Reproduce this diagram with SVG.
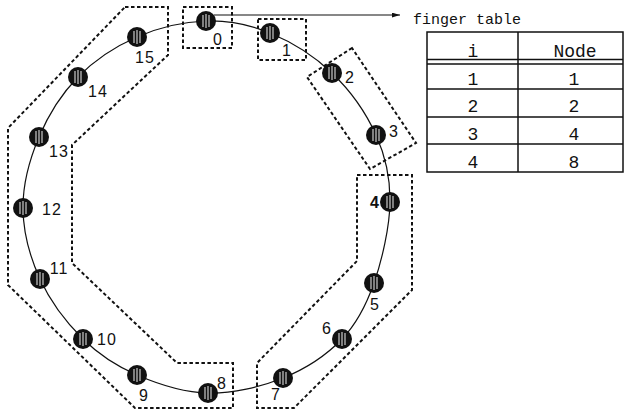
<svg xmlns="http://www.w3.org/2000/svg" xmlns:xlink="http://www.w3.org/1999/xlink" width="625" height="417" viewBox="0 0 625 417">
<style>
.ring{fill:none;stroke:#111;stroke-width:1.2}
.dash{fill:none;stroke:#111;stroke-width:2;stroke-dasharray:3.5 2.5}
.lbl{font-family:"Liberation Sans",Arial,sans-serif;font-size:16px;fill:#111;text-anchor:middle;letter-spacing:1px}
.tbl{fill:none;stroke:#111;stroke-width:1.5}
.mono{font-family:"Liberation Mono","Courier New",monospace;fill:#111}
.cell{font-size:18px;text-anchor:middle}
</style>
<defs>
<g id="nd">
<circle r="10" fill="#111"/>
<g stroke="#ccc" stroke-width="1.2">
<line x1="-3" y1="-6" x2="-3" y2="6"/>
<line x1="0" y1="-7" x2="0" y2="7"/>
<line x1="3" y1="-6" x2="3" y2="6"/>
</g>
</g>
<marker id="ah" viewBox="0 0 10 6" refX="10" refY="3" markerWidth="8" markerHeight="5" markerUnits="userSpaceOnUse" orient="auto">
<path d="M0,0 L10,3 L0,6 Z" fill="#111"/>
</marker>
</defs>
<g id="connectors">
<path class="ring" d="M206,21 C228.2,20.3 249,24.3 270,33 C291,41.7 314.3,56 332,73 C349.7,90 366.3,113.5 376,135 C385.7,156.5 390.3,177.3 390,202 C389.7,226.7 382,260.2 374,283 C366,305.8 357.2,323.2 342,339 C326.8,354.8 305.3,369 283,378 C260.7,387 232.3,393.5 208,393 C183.7,392.5 157.8,384 137,375 C116.2,366 99.2,355 83,339 C66.8,323 50,300.8 40,279 C30,257.2 23.2,231.7 23,208 C22.8,184.3 29.8,158.8 39,137 C48.2,115.2 61.7,93.7 78,77 C94.3,60.3 115.7,46.3 137,37 C158.3,27.7 183.8,21.7 206,21 Z"/>
<line x1="214" y1="15" x2="400" y2="15" stroke="#111" stroke-width="1.2" marker-end="url(#ah)"/>
</g>
<g id="groups">
<rect class="dash" x="183" y="7" width="49" height="41"/>
<rect class="dash" x="258" y="19" width="48" height="41"/>
<polygon class="dash" points="352,48 307,77 370,169 416,143"/>
<polygon class="dash" points="357,175 412,175 412,290 294,408 257,408 257,363 357,261"/>
<polygon class="dash" points="125,7 168,7 168,55 72,145 72,263 177,363 233,363 233,408 135,408 8,285 8,128"/>
</g>
<g id="n0"><use xlink:href="#nd" x="206" y="21"/><text class="lbl" x="218" y="45">0</text></g>
<g id="n1"><use xlink:href="#nd" x="270" y="33"/><text class="lbl" x="287" y="56">1</text></g>
<g id="n2"><use xlink:href="#nd" x="332" y="73"/><text class="lbl" x="350" y="83">2</text></g>
<g id="n3"><use xlink:href="#nd" x="376" y="135"/><text class="lbl" x="394" y="137">3</text></g>
<g id="n4"><use xlink:href="#nd" x="390" y="202"/><text class="lbl" x="375" y="208" font-weight="bold">4</text></g>
<g id="n5"><use xlink:href="#nd" x="374" y="283"/><text class="lbl" x="375" y="310">5</text></g>
<g id="n6"><use xlink:href="#nd" x="342" y="339"/><text class="lbl" x="327" y="334">6</text></g>
<g id="n7"><use xlink:href="#nd" x="283" y="378"/><text class="lbl" x="276" y="400">7</text></g>
<g id="n8"><use xlink:href="#nd" x="208" y="393"/><text class="lbl" x="222" y="389">8</text></g>
<g id="n9"><use xlink:href="#nd" x="137" y="375"/><text class="lbl" x="144" y="401">9</text></g>
<g id="n10"><use xlink:href="#nd" x="83" y="339"/><text class="lbl" x="107" y="345">10</text></g>
<g id="n11"><use xlink:href="#nd" x="40" y="279"/><text class="lbl" x="59" y="274">11</text></g>
<g id="n12"><use xlink:href="#nd" x="23" y="208"/><text class="lbl" x="52" y="215">12</text></g>
<g id="n13"><use xlink:href="#nd" x="39" y="137"/><text class="lbl" x="59" y="157">13</text></g>
<g id="n14"><use xlink:href="#nd" x="78" y="77"/><text class="lbl" x="98" y="97">14</text></g>
<g id="n15"><use xlink:href="#nd" x="137" y="37"/><text class="lbl" x="145" y="63">15</text></g>
<g id="finger-table">
<text class="mono" x="413" y="24" font-size="15">finger table</text>
<rect class="tbl" x="427" y="32" width="196" height="140"/>
<line class="tbl" x1="518" y1="32" x2="518" y2="172"/>
<line class="tbl" x1="427" y1="59.5" x2="623" y2="59.5"/>
<line class="tbl" x1="427" y1="64" x2="623" y2="64"/>
<line class="tbl" x1="427" y1="89" x2="623" y2="89"/>
<line class="tbl" x1="427" y1="117" x2="623" y2="117"/>
<line class="tbl" x1="427" y1="144" x2="623" y2="144"/>
<text class="mono cell" x="473" y="57">i</text>
<text class="mono cell" x="575" y="57">Node</text>
<text class="mono cell" x="473" y="85">1</text>
<text class="mono cell" x="574" y="85">1</text>
<text class="mono cell" x="473" y="112">2</text>
<text class="mono cell" x="574" y="112">2</text>
<text class="mono cell" x="473" y="140">3</text>
<text class="mono cell" x="574" y="140">4</text>
<text class="mono cell" x="473" y="168">4</text>
<text class="mono cell" x="574" y="168">8</text>
</g>
</svg>
